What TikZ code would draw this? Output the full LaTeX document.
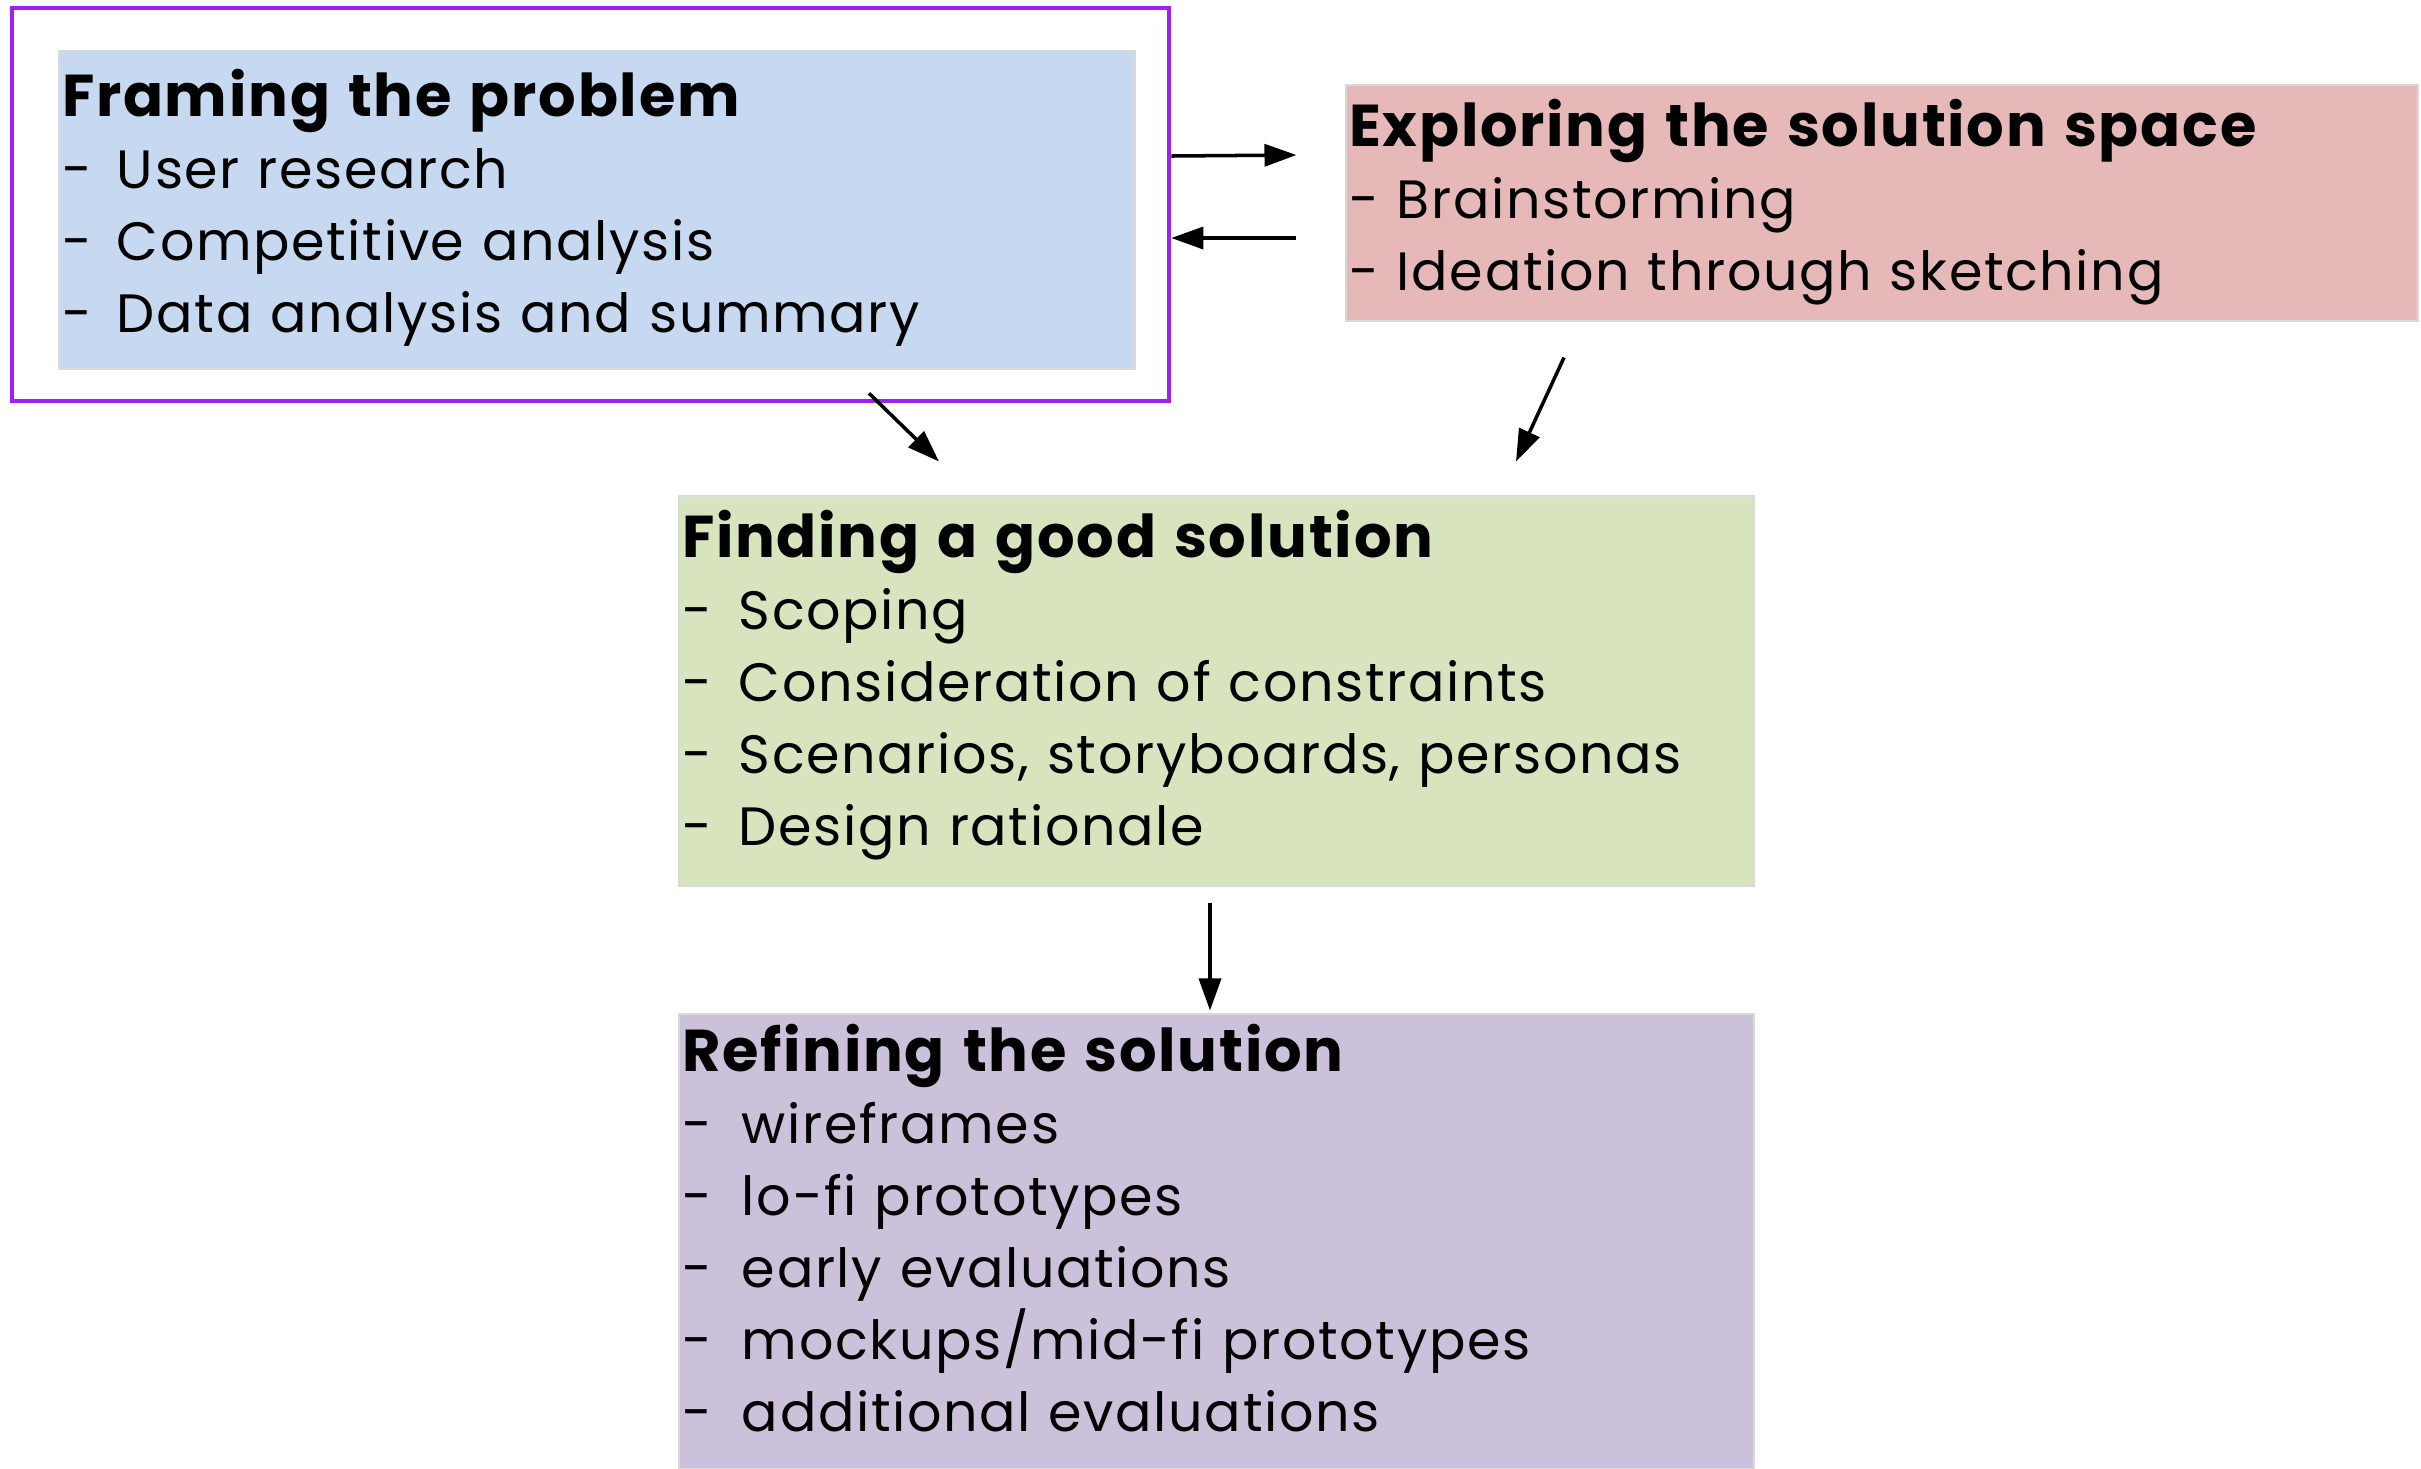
\documentclass[tikz,border=0pt]{standalone}
\usepackage{fontspec}
\setmainfont{Poppins}[LetterSpace=3]
\usepackage{tikz}
\usetikzlibrary{arrows.meta,positioning}

\definecolor{framefill}{RGB}{198,217,241}
\definecolor{explfill}{RGB}{230,185,184}
\definecolor{findfill}{RGB}{215,228,189}
\definecolor{refifill}{RGB}{204,193,218}
\definecolor{hilite}{RGB}{160,32,240}

\newcommand\itm[2][0.55cm]{\makebox[#1][l]{-}#2}
\newcommand\hd[1]{{\fontsize{16.8}{20.5}\selectfont\bfseries #1}}

\begin{document}
\begin{tikzpicture}[
  font=\fontsize{15.35}{20.5}\selectfont,
  stg/.style={draw=black!15, line width=0.3pt, inner xsep=0.03cm, inner ysep=0pt, align=left},
  hl/.style={draw=hilite, line width=1.3pt, inner sep=0pt},
  arr/.style={-{Triangle[length=0.32cm, width=0.22cm]}, line width=1pt}
]
\useasboundingbox (0,0) rectangle (24.21,-14.68);

\node[hl, minimum width=11.57cm, minimum height=3.93cm] (frame) at (5.905,-2.045) {};

\node[stg, fill=framefill, text width=10.70cm, minimum height=3.18cm] (fram) at (5.97,-2.10)
  {\hd{Framing the problem}\\\itm{User research}\\\itm{Competitive analysis}\\\itm{Data analysis and summary}\rule[-0.18cm]{0pt}{0pt}};
\node[stg, fill=explfill, text width=10.66cm, minimum height=2.36cm] (expl) at (18.82,-2.03)
  {\hd{Exploring the solution space}\\\itm[0.48cm]{Brainstorming}\\\itm[0.48cm]{Ideation through sketching}\rule[-0.17cm]{0pt}{0pt}};
\node[stg, fill=findfill, text width=10.69cm, minimum height=3.90cm] (find) at (12.165,-6.91)
  {\hd{Finding a good solution}\\\itm[0.57cm]{Scoping}\\\itm[0.57cm]{Consideration of constraints}\\\itm[0.57cm]{Scenarios, storyboards, personas}\\\itm[0.57cm]{Design rationale}\rule[-0.26cm]{0pt}{0pt}};
\node[stg, fill=refifill, text width=10.69cm, minimum height=4.54cm] (refi) at (12.165,-12.41)
  {\hd{Refining the solution}\\\itm[0.6cm]{wireframes}\\\itm[0.6cm]{lo-fi prototypes}\\\itm[0.6cm]{early evaluations}\\\itm[0.6cm]{mockups/mid-fi prototypes}\\\itm[0.6cm]{additional evaluations}\rule[-0.26cm]{0pt}{0pt}};

% arrow ends sit a little off the boxes
\coordinate (a1) at ([yshift=0.485cm]frame.east);
\coordinate (b1) at ([shift={(-0.49cm,0.48cm)}]expl.west);
\coordinate (b2) at ([shift={(-0.49cm,-0.35cm)}]expl.west);
\coordinate (a2) at ([yshift=-0.335cm]frame.east);
\coordinate (a3) at ([shift={(2.785cm,0.10cm)}]frame.south);
\coordinate (c1) at ([shift={(-2.775cm,0.34cm)}]find.north);
\coordinate (b3) at ([shift={(-3.18cm,-0.36cm)}]expl.south);
\coordinate (c2) at ([shift={(2.995cm,0.34cm)}]find.north);
\coordinate (c3) at ([shift={(-0.065cm,-0.16cm)}]find.south);
\coordinate (d1) at ([shift={(-0.065cm,0.03cm)}]refi.north);

\foreach \a/\b in {a1/b1, b2/a2, a3/c1, b3/c2, c3/d1}
  \draw[arr] (\a) -- (\b);

\end{tikzpicture}
\end{document}
